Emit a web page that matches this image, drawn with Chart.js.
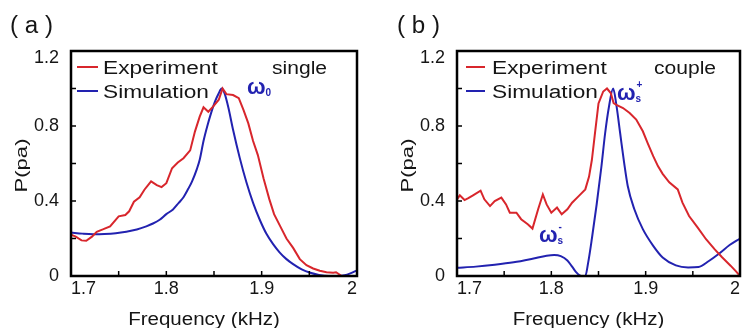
<!DOCTYPE html>
<html>
<head>
<meta charset="utf-8">
<script src="https://cdn.jsdelivr.net/npm/chart.js@4"></script>
<style>
  html, body { margin: 0; padding: 0; background: #ffffff; }
  #wrap { position: relative; width: 742px; height: 328px; overflow: hidden; }
  .panel { position: absolute; top: 0; width: 371px; height: 328px; }
  #pa { left: 0; }
  #pb { left: 371px; }
</style>
</head>
<body>
<div id="wrap">
  <div class="panel" id="pa"><canvas id="ca"></canvas></div>
  <div class="panel" id="pb"><canvas id="cb"></canvas></div>
</div>
<script>
// ---- data: frequency (kHz) and normalised pressure ----
// (a) single resonator
const expA_f = [1.700,1.705,1.711,1.716,1.722,1.727,1.734,1.741,1.750,1.757,1.761,1.766,1.772,1.777,1.784,1.790,1.795,1.800,1.806,1.812,1.818,1.825,1.830,1.835,1.839,1.844,1.849,1.855,1.859,1.863,1.870,1.876,1.881,1.886,1.891,1.896,1.902,1.908,1.913,1.919,1.926,1.933,1.940,1.947,1.954,1.961,1.968,1.975,1.978,1.984,1.992,2.000];
const expA_p = [0.22,0.21,0.19,0.188,0.21,0.236,0.25,0.265,0.318,0.325,0.345,0.396,0.42,0.46,0.505,0.485,0.474,0.495,0.575,0.605,0.628,0.67,0.77,0.85,0.90,0.876,0.903,0.94,1.0,0.97,0.965,0.948,0.885,0.814,0.72,0.645,0.52,0.41,0.33,0.27,0.2,0.15,0.09,0.058,0.04,0.028,0.02,0.018,0.02,0.0,0.0,0.0];
const simA_f = [1.700,1.712,1.723,1.735,1.747,1.758,1.769,1.779,1.786,1.793,1.800,1.807,1.813,1.818,1.823,1.827,1.832,1.835,1.839,1.843,1.847,1.851,1.855,1.858,1.861,1.865,1.870,1.877,1.884,1.891,1.898,1.905,1.912,1.919,1.926,1.933,1.942,1.951,1.960,1.970,1.980,1.987,1.993,2.000];
const simA_p = [0.232,0.226,0.223,0.224,0.228,0.236,0.248,0.265,0.28,0.3,0.33,0.355,0.39,0.42,0.465,0.505,0.57,0.62,0.72,0.8,0.87,0.93,0.975,1.0,0.975,0.9,0.78,0.63,0.5,0.39,0.3,0.225,0.17,0.125,0.09,0.063,0.035,0.017,0.006,0.0,0.0,0.004,0.014,0.03];

// (b) coupled resonators
const expB_f = [1.700,1.703,1.708,1.712,1.717,1.725,1.729,1.735,1.740,1.747,1.752,1.756,1.763,1.768,1.775,1.780,1.786,1.791,1.795,1.800,1.806,1.811,1.817,1.822,1.829,1.836,1.840,1.843,1.846,1.850,1.855,1.859,1.863,1.866,1.869,1.876,1.883,1.890,1.897,1.902,1.908,1.913,1.918,1.925,1.934,1.939,1.946,1.955,1.964,1.973,1.981,1.990,1.996,2.000];
const expB_p = [0.409,0.43,0.405,0.415,0.43,0.455,0.409,0.373,0.40,0.418,0.382,0.338,0.338,0.303,0.276,0.253,0.356,0.435,0.382,0.338,0.365,0.329,0.356,0.391,0.426,0.462,0.53,0.62,0.75,0.92,0.984,1.0,0.976,0.922,0.913,0.896,0.869,0.834,0.772,0.71,0.639,0.586,0.545,0.5,0.462,0.391,0.32,0.259,0.196,0.143,0.1,0.055,0.023,0.0];
const simB_f = [1.700,1.720,1.740,1.760,1.780,1.795,1.803,1.810,1.817,1.822,1.826,1.830,1.833,1.836,1.839,1.843,1.848,1.853,1.857,1.861,1.8655,1.869,1.873,1.877,1.881,1.888,1.897,1.908,1.918,1.932,1.945,1.956,1.967,1.978,1.989,2.000];
const simB_p = [0.044,0.05,0.06,0.073,0.092,0.108,0.112,0.106,0.083,0.05,0.022,0.004,0.0,0.0,0.07,0.2,0.38,0.58,0.76,0.9,1.0,0.91,0.76,0.61,0.48,0.356,0.25,0.161,0.099,0.057,0.046,0.048,0.08,0.12,0.165,0.2];

// axis ranges and tick labels
const xRange = [1.7, 2.0];
const yRange = [0, 1.2];
const xLabels = ['1.7', '1.8', '1.9', '2'];
const yLabels = ['0', '0.4', '0.8', '1.2'];
const seriesNames = ['Experiment', 'Simulation'];

const RED = '#d8262c';
const BLUE = '#2222b0';
const INK = '#151515';
const FONT = '"Liberation Sans", Arial, sans-serif';

function pts(fs, ps) { return fs.map((f, i) => ({ x: f, y: ps[i] })); }

function txt(ctx, s, x, y, o) {
  ctx.save();
  ctx.font = o.font;
  ctx.fillStyle = o.color || INK;
  ctx.textBaseline = 'alphabetic';
  ctx.textAlign = o.align || 'left';
  ctx.translate(x, y);
  if (o.rot) ctx.rotate(o.rot);
  ctx.scale(o.sx || 1, 1);
  ctx.fillText(s, 0, 0);
  ctx.restore();
}

// frame, inward tick marks, legend, axis titles and annotations
const decor = {
  id: 'decor',
  afterDatasetsDraw(chart, args, o) {
    const ctx = chart.ctx;
    const a = chart.chartArea;
    const xs = chart.scales.x, ys = chart.scales.y;
    ctx.save();
    ctx.strokeStyle = '#000';
    ctx.lineWidth = 1.5;
    ctx.beginPath();
    xs.ticks.forEach(t => {
      const px = xs.getPixelForValue(t.value);
      ctx.moveTo(px, a.bottom); ctx.lineTo(px, a.bottom - 5);
    });
    ys.ticks.forEach(t => {
      const py = ys.getPixelForValue(t.value);
      ctx.moveTo(a.left, py); ctx.lineTo(a.left + 5, py);
    });
    ctx.stroke();
    ctx.lineWidth = 2.5;
    ctx.strokeRect(a.left, a.top, a.right - a.left, a.bottom - a.top);

    // legend
    const lg = o.legend;
    chart.data.datasets.forEach((ds, i) => {
      const ly = a.top + 16 + i * 24;
      ctx.strokeStyle = ds.borderColor;
      ctx.lineWidth = 2;
      ctx.beginPath();
      ctx.moveTo(a.left + lg.x0, ly); ctx.lineTo(a.left + lg.x1, ly);
      ctx.stroke();
      txt(ctx, ds.label, a.left + lg.tx, ly + 6.5, { font: '18px ' + FONT, sx: 1.26 });
    });
    ctx.restore();

    // panel tag and case name
    txt(ctx, o.tag, o.tagX, 33, { font: '23px ' + FONT, sx: 1.05 });
    txt(ctx, o.caseName, o.caseX, 74, { font: '18px ' + FONT, sx: 1.17 });

    // axis titles
    txt(ctx, 'Frequency (kHz)', (a.left + a.right) / 2 - 10, 324.5,
        { font: '18px ' + FONT, sx: 1.14, align: 'center' });
    txt(ctx, 'P(pa)', a.left - 44, (a.top + a.bottom) / 2 + 2,
        { font: '17px ' + FONT, sx: 1.3, align: 'center', rot: -Math.PI / 2 });

    // resonance labels
    o.marks.forEach(m => {
      txt(ctx, '\u03c9', m.x, m.y, { font: 'bold 22px ' + FONT, color: BLUE });
      if (m.sub) txt(ctx, m.sub, m.x + 18.5, m.y + 1.5, { font: 'bold 10px ' + FONT, color: BLUE });
      if (m.sup) txt(ctx, m.sup, m.x + 19.5, m.y - 12, { font: 'bold 10px ' + FONT, color: BLUE });
    });
  }
};

function makeChart(id, expF, expP, simF, simP, cfg) {
  return new Chart(document.getElementById(id), {
    type: 'line',
    data: {
      datasets: [
        { label: seriesNames[0], data: pts(expF, expP), borderColor: RED, borderWidth: 2,
          pointRadius: 0, tension: 0 },
        { label: seriesNames[1], data: pts(simF, simP), borderColor: BLUE, borderWidth: 2,
          pointRadius: 0, cubicInterpolationMode: 'monotone' }
      ]
    },
    options: {
      responsive: true,
      maintainAspectRatio: false,
      animation: false,
      devicePixelRatio: 1,
      layout: { padding: { top: 51, right: cfg.padRight, left: 0, bottom: 0 } },
      plugins: {
        legend: { display: false },
        tooltip: { enabled: false },
        decor: cfg.decor
      },
      scales: {
        x: {
          type: 'linear', min: xRange[0], max: xRange[1],
          grid: { display: false, drawTicks: false },
          border: { display: false },
          ticks: {
            stepSize: 0.05, autoSkip: false, maxRotation: 0, align: 'inner', padding: 2,
            color: INK, font: { family: FONT, size: 18 },
            callback: v => {
              const r = Math.round(v * 100);
              return r % 10 === 0 ? xLabels[r / 10 - 17] : '';
            }
          },
          afterFit: s => { s.height = 52; }
        },
        y: {
          min: yRange[0], max: yRange[1],
          grid: { display: false, drawTicks: false },
          border: { display: false },
          ticks: {
            stepSize: 0.2, autoSkip: false, padding: 12,
            color: INK, font: { family: FONT, size: 18, lineHeight: 0.8 },
            callback: v => {
              const r = Math.round(v * 10);
              if (r % 4 !== 0) return '';
              const lab = yLabels[r / 4];
              // the top label sits just below the frame corner
              return r === 12 ? ['', lab] : lab;
            }
          },
          afterFit: s => { s.width = cfg.left; }
        }
      }
    },
    plugins: [decor]
  });
}

makeChart('ca', expA_f, expA_p, simA_f, simA_p, {
  left: 71, padRight: 14,
  decor: {
    tag: '( a )', tagX: 10, caseName: 'single', caseX: 272,
    legend: { x0: 6, x1: 27, tx: 32 },
    marks: [{ x: 247, y: 94, sub: '0' }]
  }
});

makeChart('cb', expB_f, expB_p, simB_f, simB_p, {
  left: 86, padRight: 1,
  decor: {
    tag: '( b )', tagX: 26, caseName: 'couple', caseX: 283,
    legend: { x0: 9, x1: 28, tx: 35 },
    marks: [{ x: 246, y: 100, sub: 's', sup: '+' }, { x: 168, y: 242, sub: 's', sup: '-' }]
  }
});
</script>
</body>
</html>
